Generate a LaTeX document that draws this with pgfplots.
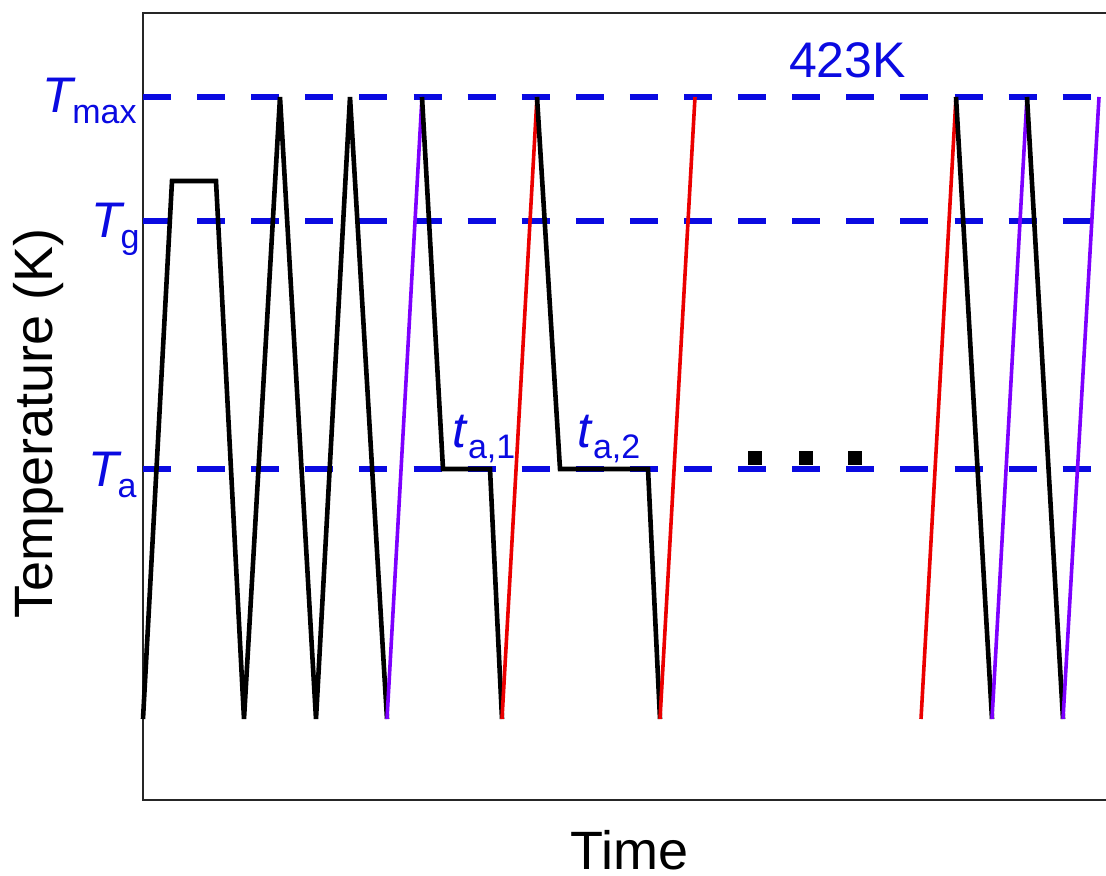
\documentclass[border=0pt]{standalone}
\usepackage{pgfplots}
\pgfplotsset{compat=1.18}
\usepackage{fontspec}
\setmainfont{Liberation Sans}
\definecolor{lblue}{RGB}{10,10,225}
\definecolor{lpurple}{RGB}{125,0,255}
\definecolor{lred}{RGB}{235,0,0}
\newcommand{\sub}[1]{\raisebox{-5.5pt}{\fontsize{17}{20}\selectfont #1}}
\begin{document}
\begin{tikzpicture}
\path[use as bounding box] (-71.5pt,-38pt) rectangle (481.5pt,400pt);
\begin{axis}[
  at={(0pt,0pt)}, anchor=south west,
  width=483pt, height=393.5pt, scale only axis,
  xmin=0, xmax=966, ymin=0, ymax=787,
  xtick=\empty, ytick=\empty,
  clip=false,
  axis line style={line width=1.2pt, black!85},
  xlabel={Time}, ylabel={Temperature (K)},
  xlabel style={at={(axis description cs:0.504,-0.0885)}, anchor=base, font=\fontsize{27}{32}\selectfont},
  ylabel style={at={(axis description cs:-0.0932,0.478)}, anchor=base, font=\fontsize{27}{32}\selectfont},
  dashline/.style={lblue, line width=2.6pt, dash pattern=on 14pt off 13.05pt},
]
% reference levels
\addplot[dashline] coordinates {(0,703) (966,703)};
\addplot[dashline] coordinates {(0,579) (966,579)};
\addplot[dashline] coordinates {(0,331) (966,331)};
% black cooling / annealing segments
\addplot[black, line width=2.3pt] coordinates {(0,81) (29,619) (73,619) (101,81) (137,703) (173,81) (207,703) (244,81)};
\addplot[lpurple, line width=1.8pt] coordinates {(244,81) (279,703)};
\addplot[black, line width=2.3pt] coordinates {(279,703) (300,331) (347,331) (359,81)};
\addplot[lred, line width=1.8pt] coordinates {(359,81) (394,703)};
\addplot[black, line width=2.3pt] coordinates {(394,703) (417,331) (505,331) (517,81)};
\addplot[lred, line width=1.8pt] coordinates {(517,81) (552,703)};
\addplot[lred, line width=1.8pt] coordinates {(778,81) (813,703)};
\addplot[black, line width=2.3pt] coordinates {(813,703) (849,81)};
\addplot[lpurple, line width=1.8pt] coordinates {(849,81) (884,703)};
\addplot[black, line width=2.3pt] coordinates {(884,703) (920,81)};
\addplot[lpurple, line width=1.8pt] coordinates {(920,81) (956,703)};
% ellipsis dots
\addplot[only marks, mark=square*, mark size=3.1pt, black] coordinates {(612,342) (663,342) (712,342)};
% annotations
\node[lblue, anchor=base east, inner sep=0pt, font=\fontsize{25}{30}\selectfont] at (axis cs:-6,687) {\textit{T}\kern-2pt\sub{max}};
\node[lblue, anchor=base east, inner sep=0pt, font=\fontsize{25}{30}\selectfont] at (axis cs:-3,562) {\textit{T}\kern-2pt\sub{g}};
\node[lblue, anchor=base east, inner sep=0pt, font=\fontsize{25}{30}\selectfont] at (axis cs:-6,313) {\textit{T}\kern-2pt\sub{a}};
\node[lblue, anchor=base west, inner sep=0pt, font=\fontsize{25}{30}\selectfont] at (axis cs:309,352) {\textit{t}\sub{a,1}};
\node[lblue, anchor=base west, inner sep=0pt, font=\fontsize{25}{30}\selectfont] at (axis cs:434,352) {\textit{t}\sub{a,2}};
\node[lblue, anchor=base, inner sep=0pt, font=\fontsize{25}{30}\selectfont] at (axis cs:704.5,722) {423K};
\end{axis}
\end{tikzpicture}
\end{document}
